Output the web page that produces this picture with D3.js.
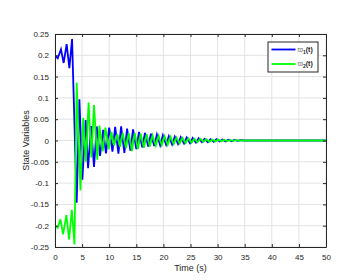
<!DOCTYPE html>
<html>
<head>
<meta charset="utf-8">
<script src="https://cdn.jsdelivr.net/npm/d3@7"></script>
<style>
  body { margin: 0; background: #fff; }
  text { font-family: "Liberation Sans", Arial, sans-serif; }
</style>
</head>
<body>
<div id="chart"></div>
<script>
// time / value pairs (turning points of each trace)
var timeX1 = [0, 0.5, 1.1, 1.6, 2.15, 2.65, 3.15, 4.0, 4.5, 5.05, 5.65, 6.1, 6.65, 7.2, 7.7, 8.3, 8.9, 9.4, 10.0, 10.6,
  11.1, 11.7, 12.2, 12.8, 13.3, 13.9, 14.4, 15.0, 15.5, 16.1, 16.6, 17.2, 17.7, 18.3, 18.8, 19.4, 19.9, 20.5, 21.0,
  21.6, 22.1, 22.7, 23.2, 23.8, 24.3, 24.9, 25.4, 26.0, 26.5, 27.1, 27.6, 28.2, 28.7, 29.3, 29.8, 30.4, 30.9, 31.5,
  32.0, 32.6, 33.1, 33.7, 34.2, 35, 50];
var valX1 = [0.2, 0.193, 0.214, 0.182, 0.226, 0.17, 0.238, -0.146, 0.097, -0.092, 0.048, -0.065, 0.034, -0.062, 0.033,
  -0.036, 0.025, -0.03, 0.03, -0.026, 0.032, -0.031, 0.033, -0.029, 0.028, -0.024, 0.026, -0.02, 0.02, -0.016, 0.018,
  -0.014, 0.016, -0.013, 0.014, -0.011, 0.012, -0.01, 0.01, -0.009, 0.009, -0.008, 0.008, -0.007, 0.007, -0.006, 0.006,
  -0.005, 0.005, -0.004, 0.004, -0.004, 0.003, -0.003, 0.003, -0.002, 0.002, -0.002, 0.002, -0.0015, 0.0015, -0.001,
  0.001, 0, 0];

var timeX2 = [0, 0.5, 1.0, 1.5, 2.1, 2.6, 3.1, 3.6, 4.0, 4.7, 5.2, 5.7, 6.2, 6.7, 7.2, 7.8, 8.2, 8.8, 9.3, 9.9, 10.4,
  10.9, 11.5, 12.0, 12.5, 13.1, 13.6, 14.2, 14.7, 15.3, 15.8, 16.4, 16.9, 17.5, 18.0, 18.6, 19.1, 19.7, 20.2, 20.8,
  21.3, 21.9, 22.4, 23.0, 23.5, 24.1, 24.6, 25.2, 25.7, 26.3, 26.8, 27.4, 27.9, 28.5, 29.0, 29.6, 30.1, 30.7, 31.2,
  31.8, 32.3, 32.9, 33.4, 34, 35, 50];
var valX2 = [-0.2, -0.205, -0.185, -0.22, -0.175, -0.232, -0.163, -0.244, 0.136, -0.117, 0.053, -0.05, 0.089, -0.04,
  0.083, -0.045, 0.035, -0.025, 0.03, -0.02, 0.02, -0.012, 0.015, -0.015, 0.018, -0.018, 0.017, -0.025, 0.018, -0.02,
  0.016, -0.017, 0.015, -0.014, 0.012, -0.012, 0.011, -0.011, 0.01, -0.01, 0.009, -0.008, 0.007, -0.007, 0.006, -0.006,
  0.005, -0.005, 0.004, -0.004, 0.004, -0.003, 0.003, -0.003, 0.002, -0.002, 0.002, -0.002, 0.0015, -0.0015, 0.001,
  -0.001, 0.001, -0.0005, 0, 0];

var xTicks = [0, 5, 10, 15, 20, 25, 30, 35, 40, 45, 50];
var yTicks = [-0.25, -0.2, -0.15, -0.1, -0.05, 0, 0.05, 0.1, 0.15, 0.2, 0.25];
var seriesNames = ["1", "2"];
var seriesColors = ["#0000ff", "#00ff00"];

var width = 353, height = 280;
var margin = {top: 34, left: 55, right: 27, bottom: 33};

var svg = d3.select("#chart").append("svg")
  .attr("width", width)
  .attr("height", height);

var x = d3.scaleLinear().domain([0, 50]).range([margin.left, width - margin.right]);
var y = d3.scaleLinear().domain([-0.25, 0.25]).range([height - margin.bottom, margin.top]);

// grid
svg.append("g").selectAll("line.gx")
  .data(xTicks).enter().append("line")
  .attr("x1", d => x(d)).attr("x2", d => x(d))
  .attr("y1", y(-0.25)).attr("y2", y(0.25))
  .attr("stroke", "#e3e3e3").attr("stroke-width", 1);
svg.append("g").selectAll("line.gy")
  .data(yTicks).enter().append("line")
  .attr("x1", x(0)).attr("x2", x(50))
  .attr("y1", d => y(d)).attr("y2", d => y(d))
  .attr("stroke", "#e3e3e3").attr("stroke-width", 1);

// traces
var series = [
  timeX1.map((t, i) => [t, valX1[i]]),
  timeX2.map((t, i) => [t, valX2[i]])
];
var line = d3.line().x(d => x(d[0])).y(d => y(d[1]));

svg.append("defs").append("clipPath").attr("id", "clip")
  .append("rect").attr("x", x(0)).attr("y", y(0.25))
  .attr("width", x(50) - x(0)).attr("height", y(-0.25) - y(0.25));

svg.append("g").attr("clip-path", "url(#clip)")
  .selectAll("path").data(series).enter().append("path")
  .attr("d", line)
  .attr("fill", "none")
  .attr("stroke", (d, i) => seriesColors[i])
  .attr("stroke-width", 1.8)
  .attr("stroke-linejoin", "miter");

// axes (ticks on all four sides, pointing in)
var fmt = d => d === 0 ? "0" : String(d);
var axisStyle = function(g) {
  g.select(".domain").attr("stroke", "#262626");
  g.selectAll(".tick line").attr("stroke", "#262626");
  g.selectAll(".tick text").attr("fill", "#262626").style("font-size", "8px");
};
svg.append("g").attr("transform", "translate(0," + y(-0.25) + ")")
  .call(d3.axisBottom(x).tickValues(xTicks).tickSizeInner(-3).tickSizeOuter(0).tickPadding(7).tickFormat(fmt))
  .call(axisStyle);
svg.append("g").attr("transform", "translate(0," + y(0.25) + ")")
  .call(d3.axisTop(x).tickValues(xTicks).tickSizeInner(-3).tickSizeOuter(0).tickFormat(""))
  .call(axisStyle);
svg.append("g").attr("transform", "translate(" + x(0) + ",0)")
  .call(d3.axisLeft(y).tickValues(yTicks).tickSizeInner(-3).tickSizeOuter(0).tickPadding(6).tickFormat(fmt))
  .call(axisStyle);
svg.append("g").attr("transform", "translate(" + x(50) + ",0)")
  .call(d3.axisRight(y).tickValues(yTicks).tickSizeInner(-3).tickSizeOuter(0).tickFormat(""))
  .call(axisStyle);

// axis titles
svg.append("text")
  .attr("x", (x(0) + x(50)) / 2).attr("y", 271)
  .attr("text-anchor", "middle")
  .attr("fill", "#262626").style("font-size", "9px")
  .text("Time (s)");
svg.append("text")
  .attr("transform", "translate(29," + y(0) + ") rotate(-90)")
  .attr("text-anchor", "middle")
  .attr("fill", "#262626").style("font-size", "9px")
  .text("State Variables");

// legend
var lg = svg.append("g").attr("transform", "translate(268,42)");
lg.append("rect").attr("width", 50).attr("height", 30)
  .attr("fill", "#fff").attr("stroke", "#262626").attr("stroke-width", 1);
seriesNames.forEach(function(n, i) {
  var ly = 7.5 + i * 14.5;
  lg.append("line").attr("x1", 3.5).attr("x2", 27.5).attr("y1", ly).attr("y2", ly)
    .attr("stroke", seriesColors[i]).attr("stroke-width", 1.8);
  var t = lg.append("text").attr("x", 29.5).attr("y", ly + 2)
    .attr("fill", "#262626").style("font-size", "7px");
  t.append("tspan").attr("fill", "#777").text("ϖ");
  t.append("tspan").attr("dy", 2).style("font-size", "5px").style("font-weight", "bold").text(n);
  t.append("tspan").attr("dy", -2).style("font-weight", "bold").text("(t)");
});
</script>
</body>
</html>
